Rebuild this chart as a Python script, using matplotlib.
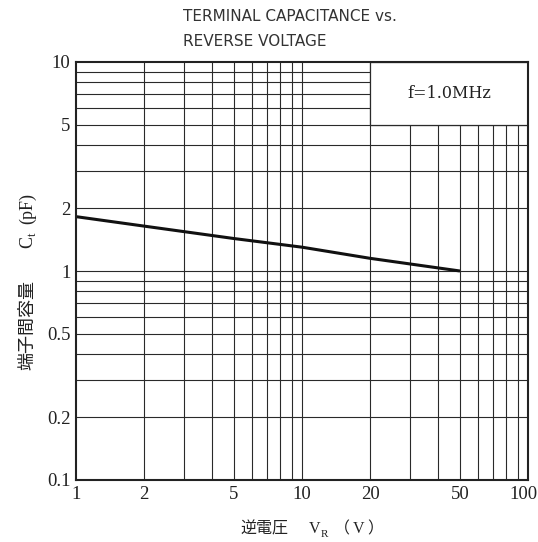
import numpy as np
import matplotlib
matplotlib.use('Agg')
import matplotlib.pyplot as plt
from matplotlib.patches import Rectangle
from matplotlib.transforms import ScaledTranslation

# data (log-log)
reverse_voltage = [1, 2, 5, 10, 20, 50]             # V_R [V]
capacitance = [1.82, 1.64, 1.43, 1.30, 1.15, 1.00]  # C_t [pF]

x_ticks = [1, 2, 5, 10, 20, 50, 100]
x_tick_labels = ['1', '2', '5', '10', '20', '50', '100']
y_ticks = [0.1, 0.2, 0.5, 1, 2, 5, 10]
y_tick_labels = ['0.1', '0.2', '0.5', '1', '2', '5', '10']

# grid lines at every 1..9 step of each decade
x_grid = [m * d for d in (1, 10) for m in range(2, 10)] + [10]
y_grid = [m * d for d in (0.1, 1) for m in range(2, 10)] + [1]

title_lines = ['TERMINAL CAPACITANCE vs.', 'REVERSE VOLTAGE']
note = 'f=1.0MHz'
note_box = (20, 100, 5, 10)  # x0, x1, y0, y1 in data units

# axis labels as pieces: (text, 'n' normal / 's' subscript) or (None, gap_px)
x_label_pieces = [('逆電圧', 'n'), (None, 21), ('V', 'n'), ('R', 's'), (None, 6),
                  ('（', 'n'), (None, 3), ('V', 'n'), (None, 3), ('）', 'n')]
y_label_pieces = [('端子間容量', 'n'), (None, 32), ('C', 'n'), ('t', 's'), (None, 8), ('(pF)', 'n')]

serif_jp = ['Liberation Serif', 'Noto Sans CJK JP']
W, H = 538, 542

fig = plt.figure(figsize=(W / 100, H / 100), dpi=100)
ax = fig.add_axes([76 / W, 1 - 480 / H, 452 / W, 418 / H])
ax.set_xscale('log')
ax.set_yscale('log')
ax.set_xlim(1, 100)
ax.set_ylim(0.1, 10)

for xv in x_grid:
    ax.axvline(xv, color='#2a2a2a', lw=0.8, zorder=1)
for yv in y_grid:
    ax.axhline(yv, color='#2a2a2a', lw=0.8, zorder=1)

# white box for the frequency note, covering the grid
x0, x1, y0, y1 = note_box
ax.add_patch(Rectangle((x0, y0), x1 - x0, y1 - y0, facecolor='white',
                       edgecolor='#2a2a2a', lw=0.9, zorder=2))
ax.text(np.sqrt(x0 * x1), np.sqrt(y0 * y1), note, ha='center', va='center',
        fontsize=11.5, family='DejaVu Serif', color='#222222', zorder=3)

ax.plot(reverse_voltage, capacitance, color='#111111', lw=2.2, zorder=4,
        solid_capstyle='butt')

ax.set_xticks(x_ticks)
ax.set_xticklabels(x_tick_labels)
ax.set_yticks(y_ticks)
ax.set_yticklabels(y_tick_labels)
ax.minorticks_off()
ax.tick_params(length=0, pad=4, labelsize=13.5, colors='#222222')
for lbl in ax.get_xticklabels() + ax.get_yticklabels():
    lbl.set_family('Liberation Serif')
# the "100" label sits a little left of centre so it stays inside the image
last = ax.get_xticklabels()[-1]
last.set_transform(last.get_transform() + ScaledTranslation(-5 / 100, 0, fig.dpi_scale_trans))

for sp in ax.spines.values():
    sp.set_linewidth(1.5)
    sp.set_color('#222222')
    sp.set_zorder(5)

fig.text(183 / W, 1 - 21 / H, title_lines[0], fontsize=11,
         family='DejaVu Sans', color='#333333', va='baseline')
fig.text(183 / W, 1 - 46 / H, title_lines[1], fontsize=11,
         family='DejaVu Sans', color='#333333', va='baseline')


def draw_pieces(pieces, start_px, base_px, vertical, size):
    renderer = fig.canvas.get_renderer()
    pos = start_px
    for s, kind in pieces:
        if s is None:
            pos += -kind if vertical else kind
            continue
        sub = kind == 's'
        fs = size * 0.7 if sub else size
        shift = 4 if sub else 0
        if vertical:
            xy = ((base_px + shift) / W, 1 - pos / H)
            rot = 90
        else:
            xy = (pos / W, 1 - (base_px + shift) / H)
            rot = 0
        t = fig.text(xy[0], xy[1], s, fontsize=fs, family=serif_jp,
                     color='#222222', ha='left', va='baseline',
                     rotation=rot, rotation_mode='anchor')
        bb = t.get_window_extent(renderer)
        if vertical:
            pos -= bb.height
        else:
            pos += bb.width


draw_pieces(x_label_pieces, 240, 533, vertical=False, size=11.5)
draw_pieces(y_label_pieces, 370, 32, vertical=True, size=13)

fig.savefig('out.png', dpi=100)
